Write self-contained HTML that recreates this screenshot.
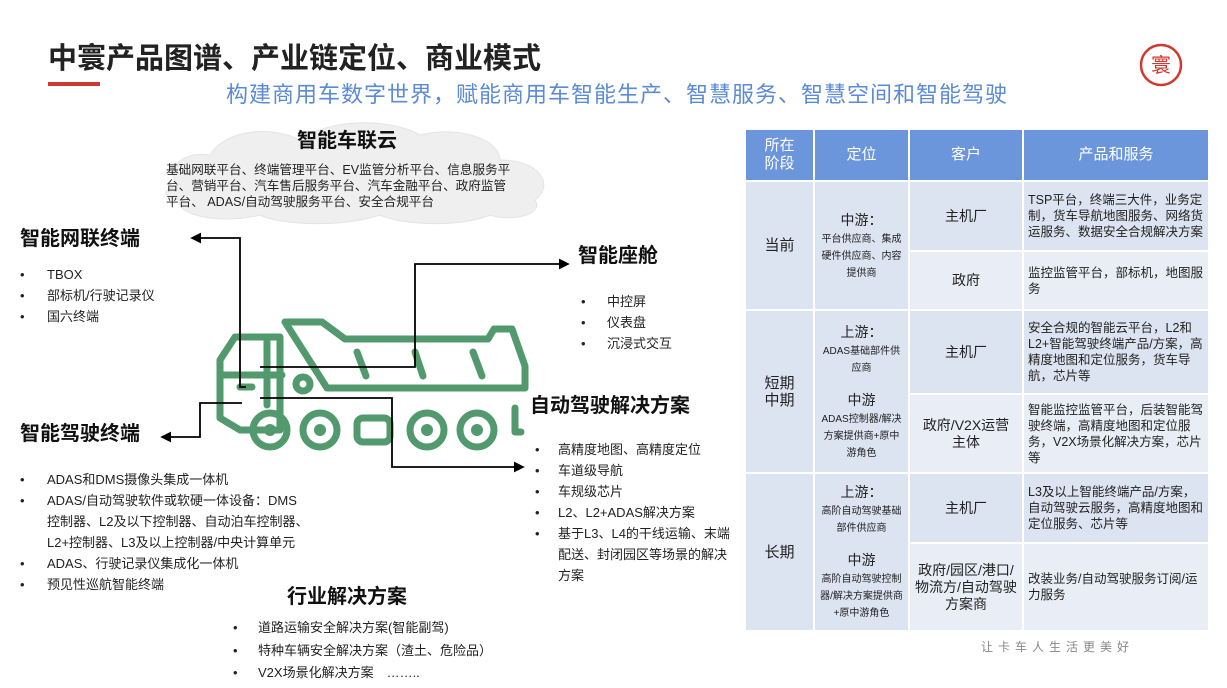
<!DOCTYPE html>
<html><head><meta charset="utf-8"><style>
*{margin:0;padding:0;box-sizing:border-box}
body{width:1227px;height:688px;background:#fff;font-family:"Liberation Sans","Noto Sans CJK SC",sans-serif;position:relative;overflow:hidden;color:#222}
.a{position:absolute;white-space:nowrap}
.h{font-weight:bold;font-size:20px;line-height:20px;color:#111}
.b{font-size:13px;line-height:13px;color:#222}
table{position:absolute;left:744px;top:128px;border-collapse:separate;border-spacing:2px;width:466px}
td{text-align:center;vertical-align:middle;font-size:14px;color:#222;padding:0 4px;line-height:17px}
th{background:#6b96dc;color:#fff;font-weight:normal;font-size:15px;line-height:18px;height:50px}
.c1{background:#dce3f1}.c2{background:#e9edf6}
.l{text-align:left;font-size:12.5px;line-height:16px}
.s{font-size:10px;line-height:12px}
</style></head><body>
<div class="a" style="left:48px;top:43px;font-size:29px;font-weight:bold;line-height:32px;color:#222">中寰产品图谱、产业链定位、商业模式</div>
<div class="a" style="left:48px;top:82px;width:52px;height:4px;background:#d0392f"></div>
<div class="a" style="left:226px;top:82px;font-size:22px;letter-spacing:1px;line-height:26px;color:#5b8ad6">构建商用车数字世界，赋能商用车智能生产、智慧服务、智慧空间和智能驾驶</div>
<svg class="a" style="left:1138px;top:42px" width="46" height="46"><circle cx="23" cy="23" r="20" fill="none" stroke="#d0392f" stroke-width="2.5"/><text x="23" y="30" text-anchor="middle" font-size="20" fill="#d0392f" font-family="Noto Sans CJK SC">寰</text></svg>

<svg class="a" style="left:0;top:0" width="740" height="688">
<defs><marker id="ar" markerWidth="6" markerHeight="6" refX="5" refY="3" orient="auto"><path d="M0,0 L6,3 L0,6 z" fill="#000"/></marker></defs>
<path d="M180,185 C160,170 185,150 210,155 C225,130 270,125 300,140 C330,118 390,118 420,135 C460,125 500,140 500,160 C540,160 555,185 535,200 C545,215 510,222 490,215 C460,228 400,225 380,215 C340,228 280,225 260,215 C220,225 175,215 180,200 C160,198 162,188 180,185z" fill="#efefef" stroke="#e4e4e4"/>
<g fill="none" stroke="#529a6e" stroke-width="7" stroke-linejoin="round" stroke-linecap="round">
<path d="M235,337 L280,337 L280,430 L240,430 L220,418 L220,360 z"/>
<path d="M267,337 L267,405"/><path d="M220,375 L282,375"/><path d="M240,387 L252,387"/>
<path d="M285,322 L322,322 L345,339 L488,339 L494,329 L512,329 L525,366 L525,388 L327,388 z"/>
<path d="M357,352 L366,376"/><path d="M415,352 L423,376"/><path d="M473,352 L482,376"/>
<circle cx="303" cy="384" r="7"/>
<circle cx="270" cy="430" r="17"/><circle cx="320" cy="430" r="17"/><circle cx="427" cy="430" r="17"/><circle cx="477" cy="430" r="17"/>
<rect x="357" y="418" width="33" height="24" rx="6"/>
<path d="M515,408 L515,432 L521,432"/>
</g>
<g fill="#529a6e"><circle cx="270" cy="430" r="6"/><circle cx="320" cy="430" r="6"/><circle cx="427" cy="430" r="6"/><circle cx="477" cy="430" r="6"/></g>
<g fill="none" stroke="#000" stroke-width="1.8">
<path d="M246,387 L240,387 L240,238 L192,238" marker-end="url(#ar)"/>
<path d="M260,367 L415,367 L415,264 L568,264" marker-end="url(#ar)"/>
<path d="M242,403 L200,403 L200,437 L162,437" marker-end="url(#ar)"/>
<path d="M260,398 L392,398 L392,467 L523,467" marker-end="url(#ar)"/>
</g>
</svg>

<div class="a h" style="left:297px;top:131px">智能车联云</div>
<div class="a" style="left:166px;top:162px;font-size:12.6px;line-height:16px;color:#222">基础网联平台、终端管理平台、EV监管分析平台、信息服务平<br>台、营销平台、汽车售后服务平台、汽车金融平台、政府监管<br>平台、 ADAS/自动驾驶服务平台、安全合规平台</div>

<div class="a h" style="left:20px;top:229px">智能网联终端</div>
<div class="a b" style="left:20px;top:264px;line-height:21px">•<br>•<br>•</div>
<div class="a b" style="left:47px;top:264px;line-height:21px">TBOX<br>部标机/行驶记录仪<br>国六终端</div>

<div class="a h" style="left:578px;top:246px">智能座舱</div>
<div class="a b" style="left:581px;top:291px;line-height:21px">•<br>•<br>•</div>
<div class="a b" style="left:607px;top:291px;line-height:21px">中控屏<br>仪表盘<br>沉浸式交互</div>

<div class="a h" style="left:530px;top:396px">自动驾驶解决方案</div>
<div class="a b" style="left:535px;top:439px;line-height:21px">•<br>•<br>•<br>•<br>•</div>
<div class="a b" style="left:558px;top:439px;line-height:21px">高精度地图、高精度定位<br>车道级导航<br>车规级芯片<br>L2、L2+ADAS解决方案<br>基于L3、L4的干线运输、末端<br>配送、封闭园区等场景的解决<br>方案</div>

<div class="a h" style="left:20px;top:424px">智能驾驶终端</div>
<div class="a b" style="left:20px;top:469px;line-height:21px">•<br>•<br><br><br>•<br>•</div>
<div class="a b" style="left:47px;top:469px;line-height:21px">ADAS和DMS摄像头集成一体机<br>ADAS/自动驾驶软件或软硬一体设备：DMS<br>控制器、L2及以下控制器、自动泊车控制器、<br>L2+控制器、L3及以上控制器/中央计算单元<br>ADAS、行驶记录仪集成化一体机<br>预见性巡航智能终端</div>

<div class="a h" style="left:287px;top:587px">行业解决方案</div>
<div class="a b" style="left:233px;top:617px;line-height:22.5px">•<br>•<br>•</div>
<div class="a b" style="left:258px;top:617px;line-height:22.5px">道路运输安全解决方案(智能副驾)<br>特种车辆安全解决方案（渣土、危险品）<br>V2X场景化解决方案　……..</div>

<table>
<tr><th style="width:67px">所在<br>阶段</th><th style="width:93px">定位</th><th style="width:112px">客户</th><th>产品和服务</th></tr>
<tr style="height:68px"><td class="c1" rowspan="2" style="font-size:15px">当前</td><td class="c1" rowspan="2"><span style="font-size:14px">中游：</span><br><span class="s">平台供应商、集成硬件供应商、内容提供商</span></td><td class="c1">主机厂</td><td class="c1 l">TSP平台，终端三大件，业务定制，货车导航地图服务、网络货运服务、数据安全合规解决方案</td></tr>
<tr style="height:57px"><td class="c2">政府</td><td class="c2 l">监控监管平台，部标机，地图服务</td></tr>
<tr style="height:82px"><td class="c1" rowspan="2" style="font-size:15px">短期<br>中期</td><td class="c1" rowspan="2"><span style="font-size:14px">上游：</span><br><span class="s">ADAS基础部件供应商</span><br><br><span style="font-size:14px">中游</span><br><span class="s">ADAS控制器/解决方案提供商+原中游角色</span></td><td class="c1">主机厂</td><td class="c1 l">安全合规的智能云平台，L2和L2+智能驾驶终端产品/方案，高精度地图和定位服务，货车导航，芯片等</td></tr>
<tr style="height:77px"><td class="c2">政府/V2X运营<br>主体</td><td class="c2 l">智能监控监管平台，后装智能驾驶终端，高精度地图和定位服务，V2X场景化解决方案，芯片等</td></tr>
<tr style="height:68px"><td class="c1" rowspan="2" style="font-size:15px">长期</td><td class="c1" rowspan="2"><span style="font-size:14px">上游：</span><br><span class="s">高阶自动驾驶基础部件供应商</span><br><br><span style="font-size:14px">中游</span><br><span class="s">高阶自动驾驶控制器/解决方案提供商+原中游角色</span></td><td class="c1">主机厂</td><td class="c1 l">L3及以上智能终端产品/方案，自动驾驶云服务，高精度地图和定位服务、芯片等</td></tr>
<tr style="height:86px"><td class="c2">政府/园区/港口/物流方/自动驾驶方案商</td><td class="c2 l">改装业务/自动驾驶服务订阅/运力服务</td></tr>
</table>
<div class="a" style="left:981px;top:638px;font-size:12px;letter-spacing:5px;color:#888">让卡车人生活更美好</div>
</body></html>
